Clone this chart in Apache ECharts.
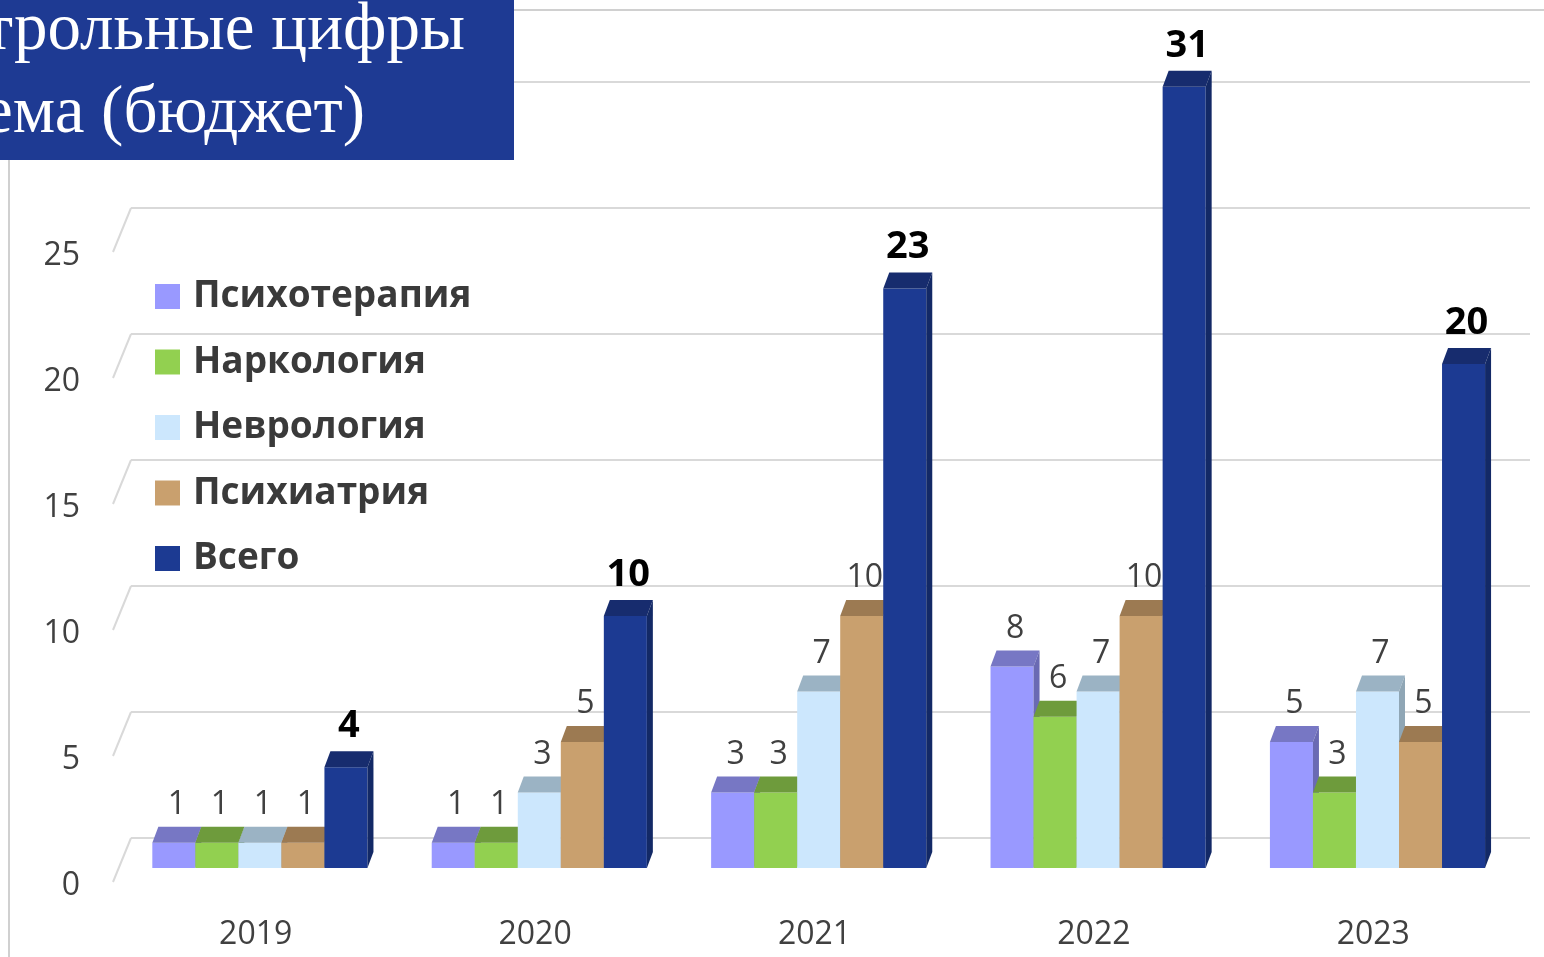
<!DOCTYPE html>
<html lang="ru">
<head>
<meta charset="UTF-8">
<title>Контрольные цифры приема (бюджет)</title>
<script src="https://cdn.jsdelivr.net/npm/echarts@6/dist/echarts.min.js"></script>
<style>
    html, body { margin: 0; padding: 0; background: #ffffff; }
    #chart { width: 1544px; height: 957px; }
</style>
</head>
<body>
<div id="chart"></div>
<script>
    // данные
    const years = ['2019', '2020', '2021', '2022', '2023'];
    const seriesNames = ['Психотерапия', 'Наркология', 'Неврология', 'Психиатрия', 'Всего'];
    const psychotherapy = [1, 1, 3, 8, 5];
    const narcology = [1, 1, 3, 6, 3];
    const neurology = [1, 3, 7, 7, 7];
    const psychiatry = [1, 5, 10, 10, 5];
    const total = [4, 10, 23, 31, 20];
    const yTicks = [0, 5, 10, 15, 20, 25, 30];

    // цвета граней: фронт, верх, бок
    const frontColors = ['#9999ff', '#92d050', '#cce7fd', '#c9a06e', '#1c3a92'];
    const topColors = ['#7777c4', '#6e9b3c', '#9bb3c4', '#9c7a52', '#172c6e'];
    const sideColors = ['#6a6ab3', '#5f8a33', '#8fa6b5', '#8a6b47', '#132966'];

    const allValues = [psychotherapy, narcology, neurology, psychiatry, total];
    const font = "'Open Sans', 'Noto Sans', sans-serif";
    const DX = 6, DY = 16;

    function barRenderer(idx) {
        return function (params, api) {
            const cat = api.value(0);
            const val = api.value(1);
            const top = api.coord([cat, val]);
            const base = api.coord([cat, 0]);
            const band = api.size([1, 0])[0];
            const w = band * 0.154;
            const x0 = top[0] - band * 0.37 + idx * w;
            const yT = top[1], yB = base[1];
            const bold = idx === 4;
            return {
                type: 'group',
                children: [
                    { type: 'rect', shape: { x: x0, y: yT, width: w, height: yB - yT },
                      style: { fill: frontColors[idx] } },
                    { type: 'polygon', shape: { points: [[x0, yT], [x0 + DX, yT - DY], [x0 + w + DX, yT - DY], [x0 + w, yT]] },
                      style: { fill: topColors[idx] } },
                    { type: 'polygon', shape: { points: [[x0 + w, yT], [x0 + w + DX, yT - DY], [x0 + w + DX, yB - DY], [x0 + w, yB]] },
                      style: { fill: sideColors[idx] } },
                    { type: 'text', z2: 10,
                      style: { text: String(val), x: x0 + w / 2 + DX / 2, y: yT - DY - (bold ? 25 : 22),
                               align: 'center', verticalAlign: 'middle',
                               fontSize: bold ? 38 : 32, fontWeight: bold ? 'bold' : 'normal',
                               fontFamily: font, fill: bold ? '#000000' : '#404040' } }
                ]
            };
        };
    }

    const barSeries = seriesNames.map((name, idx) => ({
        name: name,
        type: 'custom',
        xAxisIndex: 0,
        yAxisIndex: 0,
        itemStyle: { color: frontColors[idx] },
        renderItem: barRenderer(idx),
        data: allValues[idx].map((v, i) => [i, v])
    }));

    // перспективные наклонные линии у левого края стенки
    const diagSeries = {
        type: 'custom',
        xAxisIndex: 2,
        yAxisIndex: 2,
        silent: true,
        renderItem: function (params, api) {
            const p = api.coord([0, api.value(1)]);
            return { type: 'line', shape: { x1: p[0], y1: p[1] - 4, x2: p[0] + 18, y2: p[1] - 48 },
                     style: { stroke: '#d9d9d9', lineWidth: 2 } };
        },
        data: yTicks.map(v => [0, v])
    };

    const chart = echarts.init(document.getElementById('chart'));
    chart.setOption({
        animation: false,
        backgroundColor: '#ffffff',
        grid: [
            { left: 116, right: 31, top: 61.6, bottom: 89 },
            { left: 131, right: 14, top: 82, bottom: 119 },
            { left: 113, right: 14, top: 130, bottom: 71 }
        ],
        xAxis: [
            { gridIndex: 0, type: 'category', data: years,
              axisLine: { show: false }, axisTick: { show: false },
              axisLabel: { fontSize: 32, color: '#404040', fontFamily: font, margin: 51 } },
            { gridIndex: 1, type: 'value', show: false },
            { gridIndex: 2, type: 'value', min: 0, max: 1, show: false }
        ],
        yAxis: [
            { gridIndex: 0, type: 'value', min: 0, max: 32, show: false },
            { gridIndex: 1, type: 'value', min: 0, max: 30, interval: 5,
              axisLine: { show: false }, axisTick: { show: false }, axisLabel: { show: false },
              splitLine: { lineStyle: { color: '#d9d9d9', width: 2 } } },
            { gridIndex: 2, type: 'value', min: 0, max: 30, interval: 5,
              axisLine: { show: false }, axisTick: { show: false }, splitLine: { show: false },
              axisLabel: { fontSize: 32, color: '#404040', fontFamily: font, margin: 33,
                           formatter: v => (v === 30 ? '' : String(v)) } }
        ],
        legend: {
            orient: 'vertical',
            left: 150,
            top: 273,
            itemWidth: 25,
            itemHeight: 25,
            itemGap: 28.5,
            icon: 'rect',
            data: seriesNames,
            textStyle: { fontSize: 37, fontWeight: 'bold', color: '#3a3a3a', fontFamily: font,
                         lineHeight: 25, padding: [0, 0, 0, 8] }
        },
        graphic: [
            { type: 'line', silent: true, shape: { x1: 9, y1: 160, x2: 9, y2: 957 },
              style: { stroke: '#d0d0d0', lineWidth: 2 } },
            { type: 'line', silent: true, shape: { x1: 514, y1: 10, x2: 1544, y2: 10 },
              style: { stroke: '#d0d0d0', lineWidth: 2 } },
            { type: 'rect', z: 100, silent: true, shape: { x: 0, y: 0, width: 514, height: 160 },
              style: { fill: '#1e3a93' } },
            { type: 'text', z: 101, silent: true,
              style: { text: 'Контрольные цифры', x: 465, y: 31, align: 'right', verticalAlign: 'middle',
                       fontSize: 67, fontFamily: "'Liberation Serif', serif", fill: '#ffffff' } },
            { type: 'text', z: 101, silent: true,
              style: { text: 'приема (бюджет)', x: 365, y: 114, align: 'right', verticalAlign: 'middle',
                       fontSize: 67, fontFamily: "'Liberation Serif', serif", fill: '#ffffff' } }
        ],
        series: barSeries.concat([diagSeries])
    });
</script>
</body>
</html>
